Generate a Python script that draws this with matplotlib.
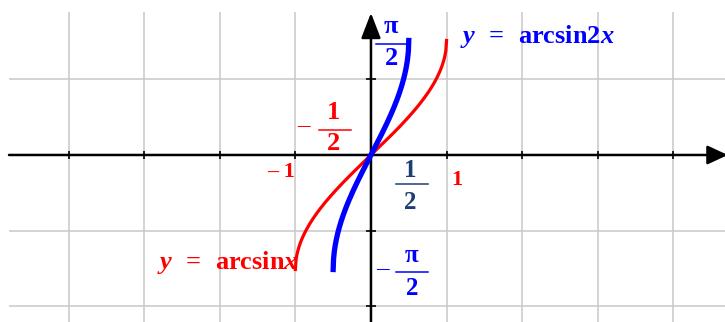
import numpy as np
import matplotlib
matplotlib.use("Agg")
import matplotlib.pyplot as plt

# ---------- 字体 ----------
plt.rcParams['font.family'] = ['Liberation Serif', 'DejaVu Serif']
plt.rcParams['mathtext.fontset'] = 'custom'
plt.rcParams['mathtext.rm'] = 'Liberation Serif:bold'
plt.rcParams['mathtext.it'] = 'Liberation Serif:bold:italic'
plt.rcParams['mathtext.bf'] = 'Liberation Serif:bold'

# ---------- 数据 ----------
x_grid = [-4, -3, -2, -1, 1, 2, 3, 4]          # 竖网格 (x 单位)
grid_step_y = 1.036                             # 横网格间距 (y 单位)
y_grid = [-2 * grid_step_y, -grid_step_y, grid_step_y]

x_red = np.linspace(-1, 1, 201)                 # y = arcsin x
y_red = np.arcsin(x_red)
x_blue = np.linspace(-0.5, 0.5, 201)            # y = arcsin 2x
y_blue = np.arcsin(2 * x_blue)

RED, BLUE, NAVY = '#ff0000', '#0000ff', '#1c3f73'
GRID = '#c8c8c8'

# ---------- 画布 ----------
fig = plt.figure(figsize=(7.25, 3.22), dpi=100)
ax = fig.add_axes([0, 0, 1, 1])
xmin, xmax = -4.907, 4.683
ymin, ymax = -2.291, 2.126
ax.set_xlim(xmin, xmax)
ax.set_ylim(ymin, ymax)
ax.axis('off')

# ---- 网格 ----
ax.vlines(x_grid, ymin, 1.962, color=GRID, lw=1.1, zorder=1)
ax.hlines(y_grid, -4.788, xmax, color=GRID, lw=1.1, zorder=1)

# ---- 坐标轴 + 箭头 ----
ax.annotate('', xy=(4.72, 0), xytext=(-4.788, 0), annotation_clip=False,
            arrowprops=dict(arrowstyle='-|>,head_length=1.25,head_width=0.58',
                            mutation_scale=10, lw=1.8, color='k',
                            shrinkA=0, shrinkB=0), zorder=3)
ax.annotate('', xy=(0, 1.948), xytext=(0, ymin), annotation_clip=False,
            arrowprops=dict(arrowstyle='-|>,head_length=1.55,head_width=0.6',
                            mutation_scale=10, lw=1.8, color='k',
                            shrinkA=0, shrinkB=0), zorder=3)

# ---- 刻度 ----
ax.vlines(x_grid, -0.055, 0.055, color='k', lw=1.2, zorder=3)
ax.hlines(y_grid, -0.066, 0.066, color='k', lw=1.2, zorder=3)

# ---- 曲线 ----
ax.plot(x_red, y_red, color=RED, lw=2.3, zorder=4)
ax.plot(x_blue, y_blue, color=BLUE, lw=3.8, zorder=5)

# ---- 文字 ----
fs_frac = 19
def frac(xc, y_num, y_bar, y_den, x0, x1, num, den, color, fs=fs_frac):
    ax.text(xc, y_num, num, color=color, fontsize=fs, fontweight='bold',
            ha='center', va='center', zorder=6)
    ax.plot([x0, x1], [y_bar, y_bar], color=color, lw=1.1, zorder=6)
    ax.text(xc, y_den, den, color=color, fontsize=fs, fontweight='bold',
            ha='center', va='center', zorder=6)

# π/2 (上)
frac(0.265, 1.756, 1.523, 1.317, 0.066, 0.489, 'π', '2', BLUE)
# -1/2
ax.text(-0.899, 0.41, '–', color=RED, fontsize=18,
        ha='center', va='center')
frac(-0.489, 0.576, 0.343, 0.151, -0.688, -0.265, '1', '2', RED)
# 1/2
frac(0.516, -0.206, -0.398, -0.645, 0.331, 0.754, '1', '2', NAVY, fs=18)
# -π/2
ax.text(0.146, -1.55, '–', color=BLUE, fontsize=18,
        ha='center', va='center')
frac(0.542, -1.372, -1.605, -1.838, 0.331, 0.754, 'π', '2', BLUE, fs=18)

# -1 与 1
ax.text(-1.0, -0.233, '– 1', color=RED, fontsize=16, fontweight='bold',
        ha='right', va='center')
ax.text(1.138, -0.343, '1', color=RED, fontsize=16, fontweight='bold',
        ha='center', va='center')

# 函数名
ax.text(1.177, 1.619, r'$y\ \,=\ \,\mathrm{arcsin2}x$', color=BLUE,
        fontsize=19, ha='left', va='center', zorder=6)
ax.text(-2.831, -1.481, r'$y\ \,=\ \,\mathrm{arcsin}x$', color=RED,
        fontsize=19, ha='left', va='center', zorder=6)

fig.savefig('out.png', dpi=100)
